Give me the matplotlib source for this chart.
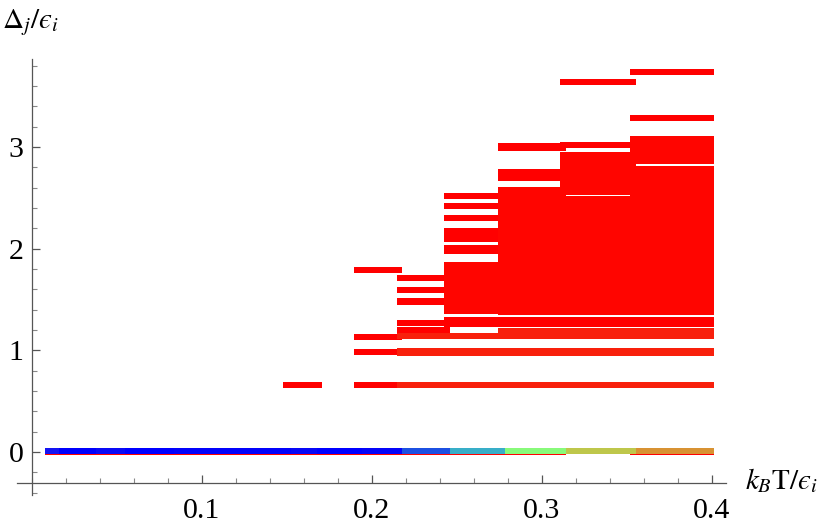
import matplotlib.pyplot as plt
from matplotlib.ticker import MultipleLocator

# temperature bins k_B T / eps_i : left and right edge of each group of levels
bin_left = [0.0081, 0.1478, 0.1896, 0.2147, 0.2427, 0.2745, 0.3108, 0.3519]
bin_right = [0.1896, 0.1708, 0.2178, 0.2460, 0.2784, 0.3143, 0.3555, 0.4013]

# single levels Delta_j / eps_i found in each bin
levels = [
    [0.0],
    [0.0, 0.664],
    [0.0, 0.664, 0.987, 1.136, 1.79],
    [0.0, 0.664, 0.981, 1.0, 1.14, 1.203, 1.276, 1.475, 1.492, 1.598, 1.711],
    [0.0, 0.664, 0.981, 1.0, 1.14, 1.262, 1.305, 1.977, 2.006, 2.10, 2.12,
     2.177, 2.306, 2.426, 2.521],
    [0.0, 0.664, 0.975, 1.0, 1.14, 1.19, 1.262, 1.305, 2.698, 2.754, 2.993, 3.017],
    [0.664, 0.975, 1.0, 1.14, 1.19, 1.262, 1.305, 3.026, 3.638],
    [0.0, 0.664, 0.975, 1.0, 1.14, 1.19, 1.262, 1.305, 3.285, 3.736],
]

# dense bands of levels (lower edge, upper edge) in each bin
band_lo = [[], [], [], [], [1.357], [1.352, 2.434], [1.352, 2.523], [1.352, 2.828]]
band_hi = [[], [], [], [], [1.872], [2.428, 2.603], [2.519, 2.954], [2.815, 3.111]]

# ground level, coloured by bin
ground_left = [0.0081, 0.0159, 0.0380, 0.0549, 0.0835, 0.1525, 0.1681, 0.1941,
               0.2178, 0.2460, 0.2784, 0.3143, 0.3555]
ground_right = [0.0159, 0.0380, 0.0549, 0.0835, 0.1525, 0.1681, 0.1941, 0.2178,
                0.2460, 0.2784, 0.3143, 0.3555, 0.4013]
ground_colors = ['#1414f2', '#0000fc', '#0a0af5', '#0000ff', '#0303fa', '#0808f6',
                 '#0000ff', '#0505f8', '#1c50e2', '#38aec8', '#88fa7a', '#bec74b',
                 '#d89232']

plt.rcParams['font.family'] = ['Liberation Serif', 'DejaVu Serif']
plt.rcParams['mathtext.fontset'] = 'stix'

fig = plt.figure(figsize=(8.3, 5.26), dpi=100)
ax = fig.add_axes([0.0205, 0.0589, 0.8539, 0.8289])

h = 0.059
for i in range(len(levels)):
    x0, x1 = bin_left[i], bin_right[i]
    for y in levels[i]:
        col = '#ff0000'
        if 0 < y < 1.2 and x0 > 0.21:
            col = '#f8200c'
        ax.barh(y - 0.003, x1 - x0, left=x0, height=h, color=col, linewidth=0)
    for lo, hi in zip(band_lo[i], band_hi[i]):
        ax.barh(lo, x1 - x0, left=x0, height=hi - lo, align='edge',
                color='#ff0500', linewidth=0)

for x0, x1, c in zip(ground_left, ground_right, ground_colors):
    ax.barh(0.008, x1 - x0, left=x0, height=0.056, color=c, linewidth=0)

ax.set_xlim(-0.0086, 0.4082)
ax.set_ylim(-0.423, 3.865)
ax.spines['top'].set_visible(False)
ax.spines['right'].set_visible(False)
ax.spines['left'].set_position(('data', 0))
ax.spines['bottom'].set_position(('data', -0.302))
for s in ['left', 'bottom']:
    ax.spines[s].set_color('#555555')
    ax.spines[s].set_linewidth(0.9)

ax.set_xticks([0.1, 0.2, 0.3, 0.4])
ax.set_xticklabels(['0.1', '0.2', '0.3', '0.4'])
ax.set_yticks([0, 1, 2, 3])
ax.set_yticklabels(['0', '1', '2', '3'])
ax.xaxis.set_minor_locator(MultipleLocator(0.02))
ax.yaxis.set_minor_locator(MultipleLocator(0.2))
ax.tick_params(which='major', direction='in', length=6, width=0.9,
               color='#555555', labelsize=21.5)
ax.tick_params(which='minor', direction='in', length=3.6, width=0.8,
               color='#888888')
ax.tick_params(axis='x', which='major', pad=11)
ax.tick_params(axis='y', which='major', pad=6)

# lunate epsilon typed directly, as in the original labels
fig.text(0.8976, 0.0703, '$k_B\\mathrm{T}/\u03f5_i$', fontsize=21,
         va='baseline', ha='left')
fig.text(0.0024, 0.9468, '$\\Delta_j/\u03f5_i$', fontsize=21,
         va='baseline', ha='left')

fig.savefig('out.png', dpi=100)
